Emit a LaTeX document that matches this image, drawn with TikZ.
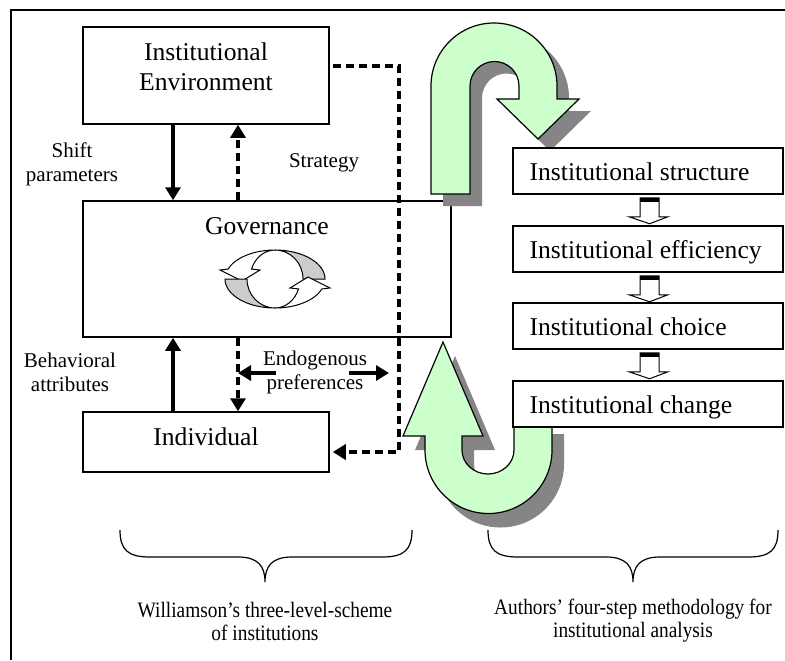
\documentclass[tikz,border=0pt]{standalone}
\usepackage{fontspec}
\setmainfont{Liberation Serif}
\newfontfamily\capfont[FakeStretch=0.88]{Liberation Serif}
\usetikzlibrary{arrows.meta,calc}
\definecolor{lgreen}{HTML}{CCFFCC}
\definecolor{shadowgray}{HTML}{858585}
\definecolor{cyclegray}{HTML}{CCCCCC}
\begin{document}
\begin{tikzpicture}[x=0.5pt,y=-0.5pt,
 lbox/.style={draw,line width=0.75pt,fill=white,inner sep=0pt},
 boxfont/.style={font=\fontsize{12.8}{15}\selectfont,inner sep=0pt},
 lab/.style={font=\fontsize{10.5}{12}\selectfont,align=center,inner sep=0pt},
 capt/.style={font=\capfont\fontsize{11}{11.5}\selectfont,align=center,inner sep=0pt},
 solidarr/.style={line width=1.7pt,-{Triangle[length=6.5pt,width=7.5pt]}},
 dashln/.style={line width=1.8pt,dash pattern=on 4pt off 2.5pt},
 dasharr/.style={dashln,-{Triangle[length=6.5pt,width=7.5pt]}},
 bigarrow/.style={fill=lgreen,draw=black,line width=0.6pt},
 bigshadow/.style={fill=shadowgray},
 cyc/.style={line width=0.5pt},
 brace/.style={line width=0.6pt}]

\useasboundingbox (0,0) rectangle (785,660);
\draw[line width=0.8pt] (785,10) -- (11,10) -- (11,660);

% left boxes
\node[lbox,minimum width=123pt,minimum height=48.5pt] (env) at (206,75.5) {};
\node[lbox,minimum width=184pt,minimum height=68pt] (gov) at (267,269) {};
\node[lbox,minimum width=123pt,minimum height=30pt] (ind) at (206,442) {};

\node[boxfont,align=center] (envtxt) at (206,67) {Institutional\\Environment};
\node[boxfont] (govtxt) at (267,226) {Governance};
\node[boxfont] (indtxt) at (206,437) {Individual};

% connectors
\coordinate (xa) at (173,0);
\coordinate (xb) at (238,0);
\coordinate (xc) at (399,0);
\coordinate (ya) at (0,66);
\coordinate (yb) at (0,452);
\coordinate (envr) at ($(env.east)+(3,0)$);
\coordinate (indr) at ($(ind.east)+(3,0)$);

\draw[solidarr] (xa |- env.south) -- (xa |- gov.north);
\draw[dasharr] (xb |- gov.north) -- (xb |- env.south);
\draw[solidarr] (xa |- ind.north) -- (xa |- gov.south);
\draw[dasharr] (xb |- gov.south) -- (xb |- ind.north);
\draw[dasharr] (envr |- ya) -- (xc |- ya) -- (xc |- yb) -- (indr |- yb);

% labels
\node[lab] (shift) at (72,164) {Shift\\parameters};
\node[lab] (strat) at (324,163) {Strategy};
\node[lab] (behav) at (70,372) {Behavioral\\attributes};
\node[lab] (endo) at (315,372) {Endogenous\\preferences};
\coordinate (el) at ($(endo.center)+(-39,1)$);
\coordinate (er) at ($(endo.center)+(34,1)$);
\coordinate (erend) at ($(xc |- er)+(-10,0)$);
\draw[solidarr] (el) -- (xb |- el);
\draw[solidarr] (er) -- (erend);

% cycle icon
\begin{scope}[shift={(275,279)}]
 \foreach \r in {0,180}{
 \begin{scope}[rotate=\r]
  \filldraw[cyc,fill=cyclegray] (0,-29) arc[start angle=270,end angle=360,x radius=50,y radius=29] -- (28,0) arc[start angle=0,end angle=-90,x radius=28,y radius=29] -- cycle;
  \filldraw[cyc,fill=white] (0,-29) arc[start angle=270,end angle=200,x radius=50,y radius=29] -- (-55,-9) -- (-33,2) -- (-15,-9) -- (-23.5,-9.9) arc[start angle=200,end angle=270,x radius=25,y radius=29] -- cycle;
 \end{scope}}
\end{scope}

% top U arrow
\begin{scope}[shift={(12,12)}]
\fill[bigshadow] (431,194) -- (431,86) arc[start angle=180,end angle=360,radius=63] -- (557,99) -- (579,99) -- (538,139) -- (497,99) -- (519,99) -- (519,86) arc[start angle=0,end angle=-180,radius=24.5] -- (470,194) -- cycle;
\end{scope}
\filldraw[bigarrow] (431,194) -- (431,86) arc[start angle=180,end angle=360,radius=63] -- (557,99) -- (579,99) -- (538,139) -- (497,99) -- (519,99) -- (519,86) arc[start angle=0,end angle=-180,radius=24.5] -- (470,194) -- cycle;

% bottom U arrow
\begin{scope}[shift={(12,14)}]
\fill[bigshadow] (425,436) -- (425,450) arc[start angle=180,end angle=0,radius=63.5] -- (552,420) -- (514,420) -- (514,450) arc[start angle=0,end angle=180,x radius=26,y radius=24] -- (462,436) -- (483,436) -- (443,342) -- (403,436) -- cycle;
\end{scope}
\filldraw[bigarrow] (425,436) -- (425,450) arc[start angle=180,end angle=0,radius=63.5] -- (552,420) -- (514,420) -- (514,450) arc[start angle=0,end angle=180,x radius=26,y radius=24] -- (462,436) -- (483,436) -- (443,342) -- (403,436) -- cycle;

% right boxes
\foreach \n/\y/\t in {s1/171/Institutional structure,s2/249/Institutional efficiency,s3/326/Institutional choice,s4/404/Institutional change}{
  \node[lbox,minimum width=135pt,minimum height=23pt] (\n) at (648,\y) {};
  \node[boxfont,anchor=base west] (\n t) at ($(\n.west)+(17,9)$) {\t};
}

% small block arrows
\foreach \a in {s1,s2,s3}{
 \begin{scope}[shift={(\a.south)}]
  \filldraw[fill=white,line width=0.5pt] (-8,3) -- (11,3) -- (11,22) -- (20,22) -- (1.5,29) -- (-19,22) -- (-8,22) -- cycle;
  \fill (-8,3) rectangle (11,7);
 \end{scope}}

% braces
\draw[brace] (120,530) .. controls (120,550) and (128,557) .. (150,557) -- (238,557) .. controls (258,557) and (265,566) .. (265,582) .. controls (265,566) and (272,557) .. (292,557) -- (382,557) .. controls (404,557) and (412,550) .. (412,530);
\draw[brace] (488,530) .. controls (488,550) and (496,557) .. (518,557) -- (606,557) .. controls (626,557) and (633,566) .. (633,582) .. controls (633,566) and (640,557) .. (660,557) -- (748,557) .. controls (770,557) and (778,550) .. (778,530);

% captions
\node[capt] (cap1) at (265,621) {Williamson’s three-level-scheme\\of institutions};
\node[capt] (cap2) at (633,621) {Authors’ four-step methodology for\\institutional analysis};
\end{tikzpicture}
\end{document}
